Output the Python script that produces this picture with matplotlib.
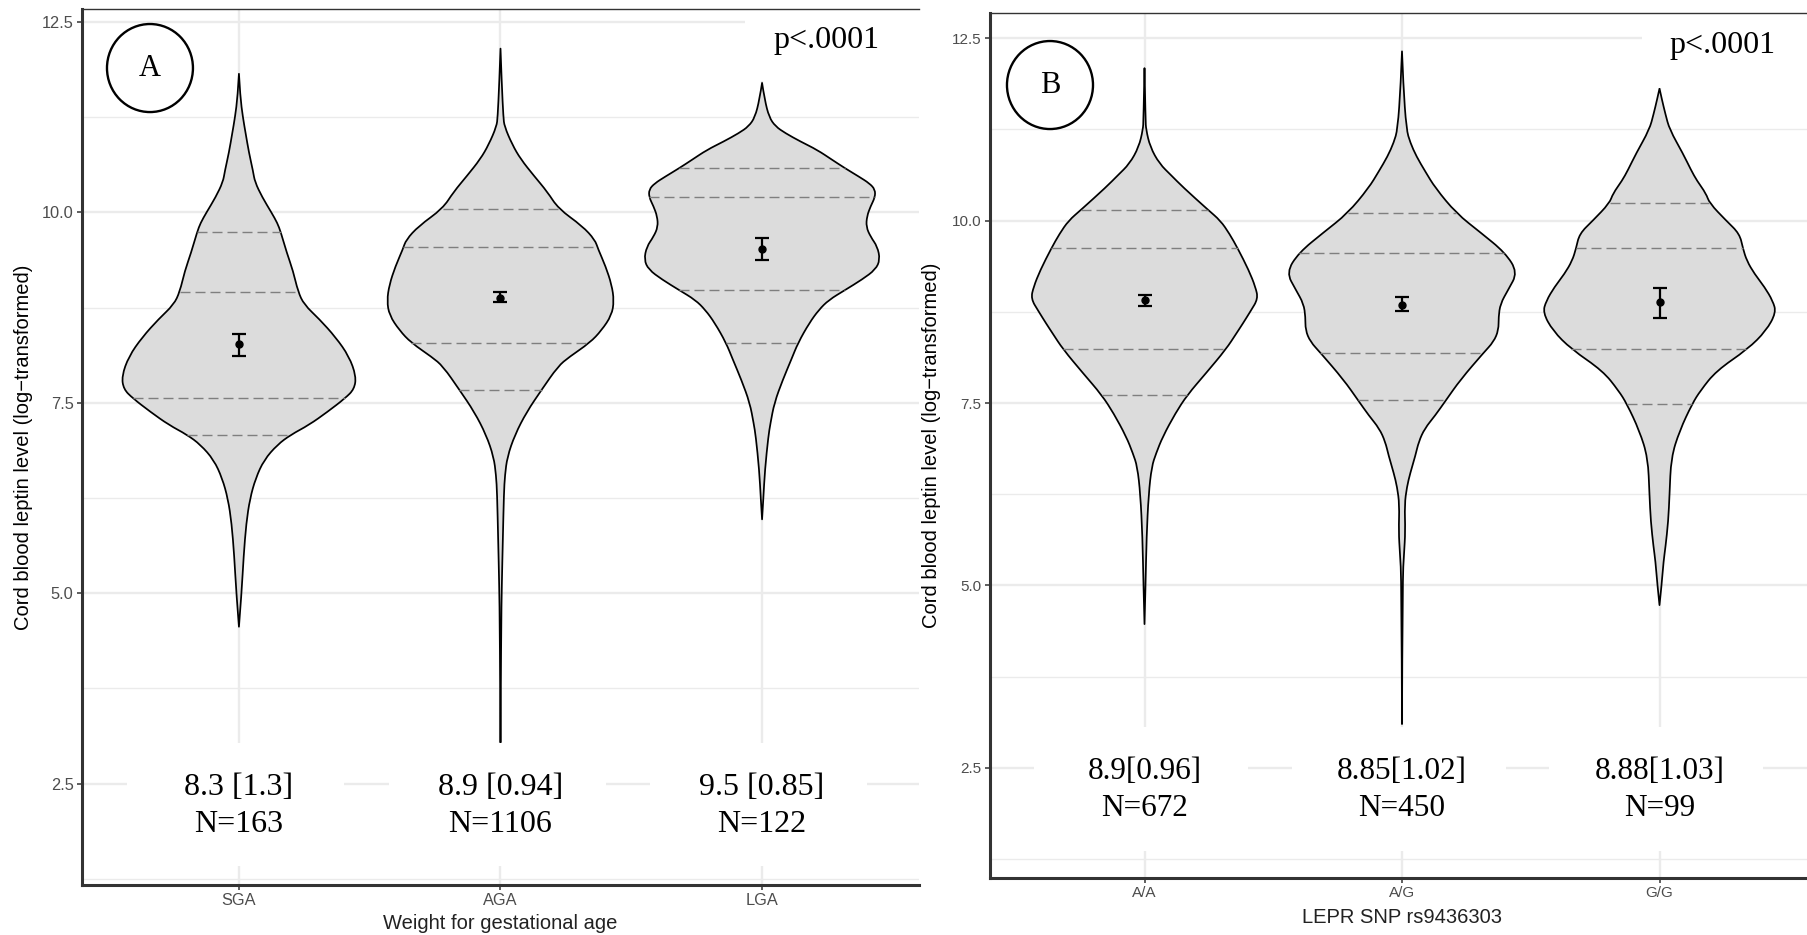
import numpy as np
import matplotlib
matplotlib.use('Agg')
import matplotlib.pyplot as plt
from matplotlib.patches import Rectangle, Ellipse, PathPatch
from matplotlib.path import Path
from matplotlib.ticker import FixedLocator

# ---------------- data ----------------
groups_a = ['SGA', 'AGA', 'LGA']
groups_b = ['A/A', 'A/G', 'G/G']
ytick_vals = [2.5, 5.0, 7.5, 10.0, 12.5]
ytick_labels = ['2.5', '5.0', '7.5', '10.0', '12.5']

# violin outlines: y (log leptin) and half-width (density scaled)
sga_y = [11.82, 11.52, 11.25, 11.03, 10.79, 10.54, 10.40, 10.20, 10.0, 9.86, 9.74, 9.47, 9.23, 8.96, 8.79, 8.60,
         8.36, 8.11, 7.85, 7.68, 7.56, 7.38, 7.21, 7.08, 6.95, 6.75, 6.51, 6.24, 5.92, 5.49, 5.0, 4.56]
sga_w = [0, .005, .015, .026, .038, .054, .061, .089, .124, .147, .160, .183, .207, .226, .249, .307,
         .370, .421, .448, .441, .406, .338, .268, .198, .147, .096, .064, .042, .028, .018, .010, 0]
aga_y = [12.15, 11.67, 11.25, 11.13, 10.89, 10.70, 10.48, 10.27, 10.05, 9.82, 9.64, 9.52, 9.29, 9.05, 8.84, 8.65,
         8.45, 8.29, 8.10, 7.98, 7.67, 7.38, 7.08, 6.79, 6.55, 6.31, 5.71, 5.12, 4.52, 3.04]
aga_w = [0, .005, .011, .015, .045, .077, .128, .179, .221, .313, .361, .373, .402, .425, .434, .425,
         .386, .342, .262, .220, .157, .100, .055, .026, .017, .013, .009, .005, .0025, 0]
lga_y = [11.70, 11.48, 11.25, 11.13, 11.04, 10.93, 10.82, 10.69, 10.58, 10.47, 10.38, 10.30, 10.20, 10.08, 9.95,
         9.81, 9.68, 9.55, 9.38, 9.25, 9.12, 8.98, 8.85, 8.72, 8.55, 8.29, 8.07, 7.80, 7.50, 7.23, 7.06, 6.62,
         6.25, 5.97]
lga_w = [0, .010, .027, .051, .089, .147, .211, .268, .317, .370, .411, .432, .432, .415, .401,
         .398, .415, .441, .451, .434, .383, .317, .255, .217, .181, .138, .112, .079, .047, .032, .024, .011,
         .005, 0]
aa_y = [12.09, 11.38, 11.25, 11.01, 10.78, 10.62, 10.46, 10.15, 10.0, 9.82, 9.62, 9.32, 9.09, 8.93, 8.76, 8.59,
        8.45, 8.24, 7.91, 7.61, 7.36, 7.04, 6.81, 6.63, 6.25, 5.67, 5.0, 4.47]
aa_w = [0, .004, .006, .022, .058, .104, .149, .246, .295, .330, .362, .405, .431, .441, .412, .382,
        .356, .317, .239, .166, .120, .071, .045, .028, .016, .008, .004, 0]
ag_y = [12.32, 11.86, 11.25, 11.07, 10.88, 10.67, 10.45, 10.10, 9.84, 9.56, 9.29, 9.05, 8.86, 8.68, 8.50, 8.34,
        8.19, 7.82, 7.54, 7.33, 7.15, 6.97, 6.78, 6.54, 6.35, 6.11, 5.74, 5.44, 5.07, 3.10]
ag_w = [0, .005, .017, .032, .056, .091, .129, .211, .304, .401, .449, .412, .382, .375, .375, .356,
        .317, .227, .171, .129, .088, .065, .052, .032, .019, .010, .013, .008, .002, 0]
gg_y = [11.81, 11.65, 11.46, 11.25, 10.92, 10.69, 10.55, 10.37, 10.24, 10.0, 9.82, 9.62, 9.45, 9.27, 9.09, 8.90,
        8.74, 8.49, 8.24, 7.94, 7.67, 7.49, 7.12, 6.75, 6.25, 5.88, 5.52, 5.34, 5.0, 4.73]
gg_w = [0, .010, .023, .039, .091, .123, .145, .181, .194, .259, .311, .324, .339, .369, .408, .440,
        .453, .414, .343, .220, .159, .127, .078, .045, .039, .034, .023, .016, .008, 0]

# drawn quantiles
quant_a = [[9.74, 8.96, 7.56, 7.08], [10.05, 9.54, 8.29, 7.67], [10.58, 10.20, 8.98, 8.29]]
quant_b = [[10.15, 9.62, 8.24, 7.61], [10.10, 9.56, 8.19, 7.54], [10.24, 9.62, 8.24, 7.49]]

# means with confidence intervals
mean_a = [8.27, 8.88, 9.52]
lo_a = [8.11, 8.82, 9.38]
hi_a = [8.41, 8.95, 9.67]
mean_b = [8.91, 8.85, 8.88]
lo_b = [8.83, 8.76, 8.66]
hi_b = [8.98, 8.95, 9.07]

# annotations
stat_a = ['8.3 [1.3]', '8.9 [0.94]', '9.5 [0.85]']
n_a = ['N=163', 'N=1106', 'N=122']
stat_b = ['8.9[0.96]', '8.85[1.02]', '8.88[1.03]']
n_b = ['N=672', 'N=450', 'N=99']
pval = 'p<.0001'

# ---------------- styling ----------------
FILL = '#dcdcdc'
GRID = '#ebebeb'
SPINE = '#333333'
TICKC = '#4d4d4d'
SANS = 'Liberation Sans'
SERIF = 'Liberation Serif'

W, H = 1807, 935
fig = plt.figure(figsize=(W / 100, H / 100), dpi=100)
axA = fig.add_axes([82 / W, (H - 885) / H, 837 / W, 876 / H])
axB = fig.add_axes([990 / W, (H - 878) / H, 824 / W, 865.3 / H])


def style_axes(ax, ylim, groups, xlabel, tick_fs, ylab_x, xlab_y):
    ax.set_xlim(0.4, 3.6)
    ax.set_ylim(*ylim)
    ax.set_axisbelow(True)
    ax.yaxis.set_major_locator(FixedLocator(ytick_vals))
    ax.set_yticklabels(ytick_labels)
    ax.yaxis.set_minor_locator(FixedLocator([1.25, 3.75, 6.25, 8.75, 11.25]))
    ax.set_xticks([1, 2, 3])
    ax.set_xticklabels(groups)
    ax.grid(which='major', color=GRID, lw=1.7)
    ax.grid(which='minor', axis='y', color=GRID, lw=1.0)
    ax.tick_params(which='major', length=3.6, width=1.1, color=SPINE, labelcolor=TICKC,
                   labelsize=tick_fs, pad=2.5)
    ax.tick_params(which='minor', length=0)
    for lab in ax.get_xticklabels() + ax.get_yticklabels():
        lab.set_family(SANS)
    for s in ['left', 'bottom']:
        ax.spines[s].set_linewidth(2.2)
        ax.spines[s].set_color(SPINE)
        ax.spines[s].set_zorder(6)
    ax.spines['top'].set_linewidth(1.0)
    ax.spines['top'].set_color(SPINE)
    ax.spines['top'].set_zorder(6)
    ax.spines['right'].set_visible(False)
    ax.set_ylabel('Cord blood leptin level (log\u2212transformed)', family=SANS, fontsize=14.5,
                  va='center', ha='center')
    ax.yaxis.set_label_coords(ylab_x, 0.5)
    ax.set_xlabel(xlabel, family=SANS, fontsize=14.5, va='center', ha='center', color='#222222')
    ax.xaxis.set_label_coords(0.5, xlab_y)


def side_path(xs, ys):
    """Quadratic-Bezier path through the outline readings (smooth rendering)."""
    pts = np.column_stack([xs, ys])
    verts, codes = [], []
    n = len(pts)
    for i in range(1, n - 1):
        end = (pts[i] + pts[i + 1]) / 2 if i < n - 2 else pts[i + 1]
        verts += [pts[i], end]
        codes += [Path.CURVE3, Path.CURVE3]
    return pts[0], verts, codes


def draw_violin(ax, xc, ys, ws, quants):
    y = np.array(ys[::-1])
    w = np.array(ws[::-1])
    start, v1, c1 = side_path(xc - w, y)            # left side bottom -> top
    _, v2, c2 = side_path((xc + w)[::-1], y[::-1])  # right side top -> bottom
    verts = [start] + v1 + v2 + [start]
    codes = [Path.MOVETO] + c1 + c2 + [Path.CLOSEPOLY]
    ax.add_patch(PathPatch(Path(verts, codes), facecolor=FILL, edgecolor='black', lw=1.25,
                           joinstyle='round', zorder=2))
    for q in quants:
        hw = np.interp(q, y, w)
        ax.plot([xc - hw, xc + hw], [q, q], color='#7f7f7f', lw=1.0, ls=(0, (7.2, 3.6)), zorder=2.2)


style_axes(axA, (1.17, 12.67), groups_a, 'Weight for gestational age', 11.8, -0.0693, -0.0434)
style_axes(axB, (0.99, 12.85), groups_b, 'LEPR SNP rs9436303', 11.0, -0.0704, -0.0451)

for ax, profiles, quants, means, los, his in [
        (axA, [(sga_y, sga_w), (aga_y, aga_w), (lga_y, lga_w)], quant_a, mean_a, lo_a, hi_a),
        (axB, [(aa_y, aa_w), (ag_y, ag_w), (gg_y, gg_w)], quant_b, mean_b, lo_b, hi_b)]:
    for i, (ys, ws) in enumerate(profiles):
        draw_violin(ax, i + 1, ys, ws, quants[i])
    xs = np.arange(1, 4)
    m = np.array(means)
    ax.errorbar(xs, m, yerr=[m - np.array(los), np.array(his) - m], fmt='o', color='black',
                ms=5, elinewidth=1.6, capsize=4.8, capthick=1.6, zorder=2.5)

# white annotation boxes and texts
for ax, stats, ns, box_lo, box_hi, y1, y2, ptop, py, fs in [
        (axA, stat_a, n_a, 1.42, 3.03, 2.45, 1.96, 11.72, 12.25, 23.0),
        (axB, stat_b, n_b, 1.36, 3.06, 2.45, 1.94, 11.82, 12.40, 22.5)]:
    for i in range(3):
        xc = i + 1
        ax.add_patch(Rectangle((xc - 0.428, box_lo), 0.83, box_hi - box_lo, facecolor='white',
                               edgecolor='none', zorder=3))
        ax.text(xc, y1, stats[i], family=SERIF, fontsize=fs, ha='center', va='center', zorder=4)
        ax.text(xc, y2, ns[i], family=SERIF, fontsize=fs, ha='center', va='center', zorder=4)
    ax.add_patch(Rectangle((2.933, ptop), 1.2, 2.0, facecolor='white', edgecolor='none', zorder=3))
    ax.text(3.245, py, pval, family=SERIF, fontsize=23, ha='center', va='center', zorder=4)

# panel letters in circles
for ax, letter, cx, cy, ew, eh in [(axA, 'A', 0.0812, 0.9326, 0.1027, 0.1005),
                                   (axB, 'B', 0.0728, 0.9164, 0.1044, 0.1017)]:
    ax.add_patch(Ellipse((cx, cy), ew, eh, transform=ax.transAxes, facecolor='white',
                         edgecolor='black', lw=1.7, zorder=4))
    ax.text(cx, cy, letter, transform=ax.transAxes, family=SERIF, fontsize=22,
            ha='center', va='center', zorder=5)

fig.savefig('out.png', dpi=100)
